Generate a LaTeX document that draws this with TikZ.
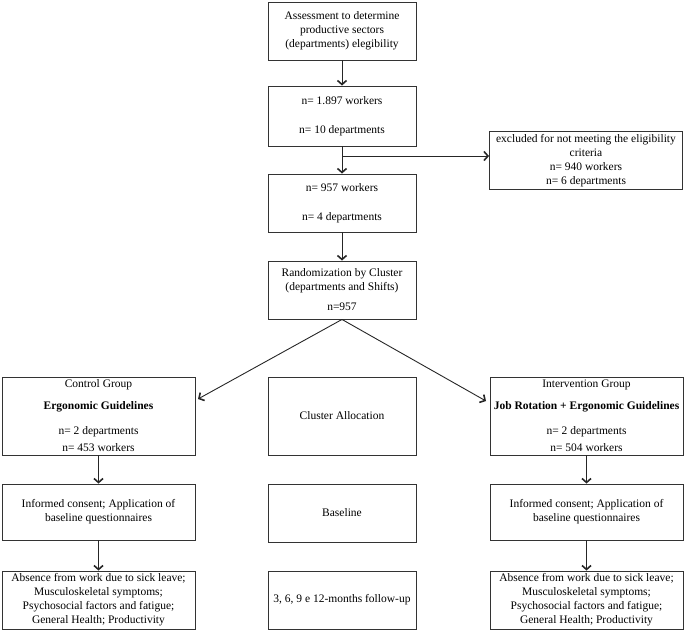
\documentclass[tikz,border=0pt]{standalone}
\usepackage{fontspec}
\setmainfont{Liberation Serif}
\usetikzlibrary{arrows.meta}
\begin{document}
\begin{tikzpicture}[x=1pt,y=1pt,
  box/.style={draw=black!80, line width=0.9pt, align=center, inner sep=0pt,
    font=\fontsize{11.5}{14}\selectfont},
  arr/.style={draw=black!85, line width=0.9pt,
    -{Straight Barb[length=4pt,width=9pt,line width=1.6pt]}}]
\useasboundingbox (0,0) rectangle (685,-630);
% central column
\node[box, minimum width=148pt, minimum height=58pt] (b1) at (342,-31)
  {\fontsize{11.5}{15.5}\selectfont Assessment to determine\\ productive sectors\\ (departments) elegibility};
\node[box, minimum width=148pt, minimum height=60pt] (b2) at (342,-116)
  {n= 1.897 workers\\[15pt] n= 10 departments};
\node[box, minimum width=148pt, minimum height=58pt] (b3) at (342,-203)
  {n= 957 workers\\[15pt] n= 4 departments};
\node[box, minimum width=148pt, minimum height=58pt] (b4) at (342,-290)
  {\fontsize{11.5}{15}\selectfont Randomization by Cluster\\ (departments and Shifts)\\[6pt] n=957};
\node[box, minimum width=193pt, minimum height=58pt] (ex) at (586,-160.5)
  {\fontsize{11.5}{14.5}\selectfont excluded for not meeting the eligibility\\ criteria\\ n= 940 workers\\ n= 6 departments};
% left column
\node[box, minimum width=193pt, minimum height=78pt] (l1) at (98.5,-416)
  {Control Group\\[8pt] \textbf{Ergonomic Guidelines}\\[11pt] n= 2 departments\\[3pt] n= 453 workers};
\node[box, minimum width=193pt, minimum height=56pt] (l2) at (98.5,-512)
  {\fontsize{11.5}{15}\selectfont Informed consent; Application of\\ baseline questionnaires};
\node[box, minimum width=193pt, minimum height=58pt] (l3) at (98.5,-600)
  {\fontsize{11.5}{13}\selectfont Absence from work due to sick leave;\\ Musculoskeletal symptoms;\\ Psychosocial factors and fatigue;\\ General Health; Productivity};
% middle column
\node[box, minimum width=148pt, minimum height=78pt] (c1) at (342,-416) {Cluster Allocation};
\node[box, minimum width=148pt, minimum height=58pt] (c2) at (342,-513) {Baseline};
\node[box, minimum width=148pt, minimum height=58pt] (c3) at (342,-600) {3, 6, 9 e 12-months follow-up};
% right column
\node[box, minimum width=193pt, minimum height=78pt] (r1) at (586.5,-416)
  {Intervention Group\\[8pt] \textbf{Job Rotation + Ergonomic Guidelines}\\[11pt] n= 2 departments\\[3pt] n= 504 workers};
\node[box, minimum width=193pt, minimum height=56pt] (r2) at (586.5,-512)
  {\fontsize{11.5}{15}\selectfont Informed consent; Application of\\ baseline questionnaires};
\node[box, minimum width=193pt, minimum height=58pt] (r3) at (586.5,-600)
  {\fontsize{11.5}{13}\selectfont Absence from work due to sick leave;\\ Musculoskeletal symptoms;\\ Psychosocial factors and fatigue;\\ General Health; Productivity};
% connectors
\draw[arr] (b1.south) -- (b2.north);
\draw[arr] (b2.south) -- (b3.north);
\coordinate (br) at (342,-156);
\draw[arr] (br) -- (br -| ex.west);
\draw[arr] (b3.south) -- (b4.north);
\coordinate (lt) at (198,-399);
\coordinate (rt) at (486,-401);
\draw[arr] (b4.south) -- (lt);
\draw[arr] (b4.south) -- (rt);
\draw[arr] (l1.south) -- (l2.north);
\draw[arr] (l2.south) -- (l3.north);
\draw[arr] (r1.south) -- (r2.north);
\draw[arr] (r2.south) -- (r3.north);
\end{tikzpicture}
\end{document}
